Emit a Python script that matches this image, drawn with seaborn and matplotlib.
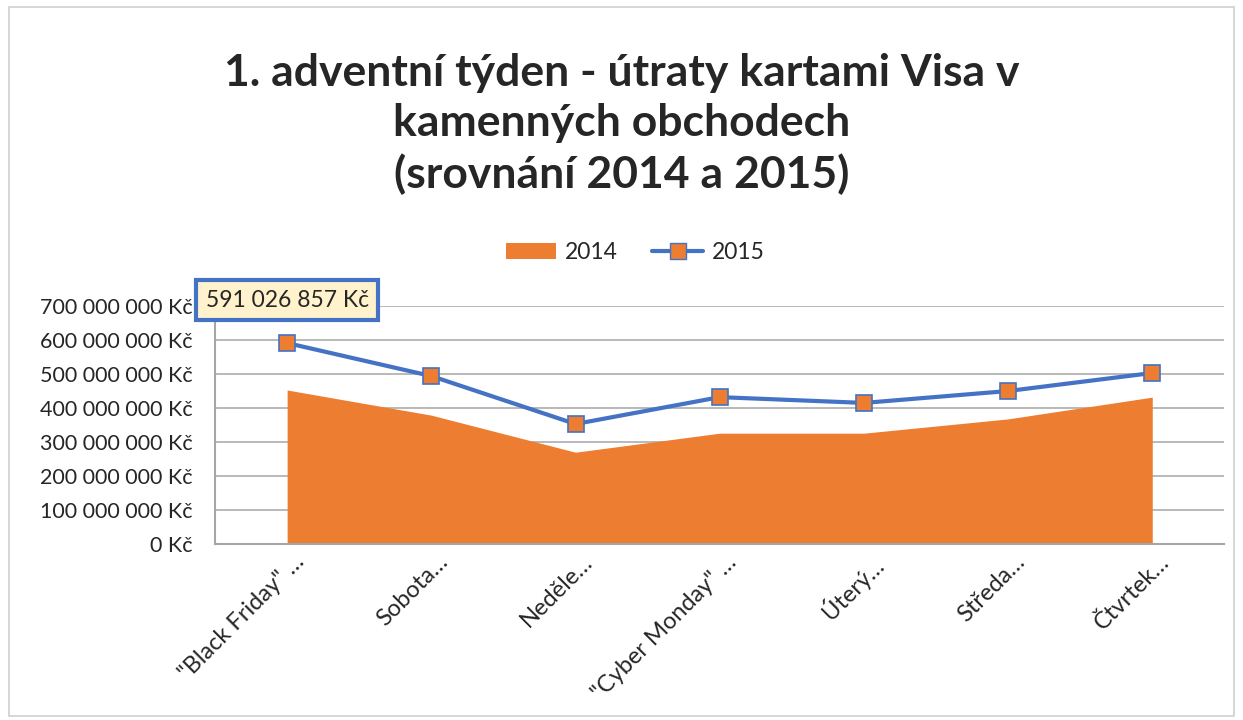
import numpy as np
import pandas as pd
import matplotlib.pyplot as plt
import matplotlib.transforms as mtransforms
import seaborn as sns
from matplotlib.ticker import FuncFormatter, FixedLocator
from matplotlib.patches import Rectangle, Patch
from matplotlib.lines import Line2D

sns.set_theme(style="white")
plt.rcParams['font.family'] = ['Lato', 'DejaVu Sans']

# Data
days = ['"Black Friday" …', 'Sobota…', 'Neděle…', '"Cyber Monday" …',
        'Úterý…', 'Středa…', 'Čtvrtek…']
values_2014 = [453e6, 379e6, 270e6, 326e6, 326e6, 368e6, 432e6]
values_2015 = [591026857, 494e6, 353e6, 432e6, 415e6, 450e6, 503e6]

orange = "#ED7D31"
blue = "#4472C4"

df = pd.DataFrame({"pos": range(len(days)), "day": days,
                   "y2014": values_2014, "y2015": values_2015})

fig = plt.figure(figsize=(12.43, 7.2), dpi=100)
ax = fig.add_axes([0.173, 0.2444, 0.812, 0.3306])

# 2014 area
ax.fill_between(df["pos"], 0, df["y2014"], color=orange, linewidth=0, zorder=2)

# 2015 line
sns.lineplot(data=df, x="pos", y="y2015", ax=ax, color=blue, linewidth=3,
             marker="s", markersize=11, markerfacecolor=orange,
             markeredgecolor=blue, markeredgewidth=1.2, zorder=3)

ax.set_xlim(-0.5, len(days) - 0.5)
ax.set_ylim(0, 700e6)
ax.set_xlabel("")
ax.set_ylabel("")

# y axis
ax.yaxis.set_major_locator(FixedLocator(np.arange(0, 700e6 + 1, 100e6)))
ax.yaxis.set_major_formatter(FuncFormatter(lambda v, p: f"{int(v):,} Kč".replace(",", " ")))
ax.grid(axis="y", color="#b3b3b3", linewidth=1.3, zorder=0)
ax.set_axisbelow(True)
ax.tick_params(axis="y", length=6, width=1.3, color="#b3b3b3", labelsize=15.5, pad=10)

# x axis
ax.set_xticks(df["pos"])
ax.set_xticklabels(days, rotation=45, ha="right", va="top", rotation_mode="anchor")
ax.set_xticks(np.arange(-0.5, len(days), 1.0), minor=True)
ax.tick_params(axis="x", which="major", length=0, labelsize=17, pad=8)
ax.tick_params(axis="x", which="minor", length=6, width=1.3, color="#a6a6a6")
shift = mtransforms.ScaledTranslation(6 / 100, 4 / 100, fig.dpi_scale_trans)
for lbl in ax.get_xticklabels():
    lbl.set_transform(lbl.get_transform() + shift)

for s in ["top", "right"]:
    ax.spines[s].set_visible(False)
for s in ["left", "bottom"]:
    ax.spines[s].set_color("#a6a6a6")
    ax.spines[s].set_linewidth(1.5)

# data label on first point of 2015
ax.annotate(f"{values_2015[0]:,} Kč".replace(",", " "),
            xy=(df["pos"][0], values_2015[0]), xytext=(0, 31),
            textcoords="offset points", ha="center", va="center",
            fontsize=16.5, zorder=5,
            bbox=dict(boxstyle="square,pad=0.4", fc="#FFF2CC", ec=blue, lw=3))

# title
fig.text(0.5, 0.828, "1. adventní týden - útraty kartami Visa v\nkamenných obchodech\n(srovnání 2014 a 2015)",
         ha="center", va="center", fontsize=32, fontweight="bold", linespacing=1.3)

# legend
handles = [Patch(facecolor=orange, edgecolor="none", label="2014"),
           Line2D([0], [0], color=blue, lw=3, marker="s", markersize=11,
                  markerfacecolor=orange, markeredgecolor=blue, label="2015")]
fig.legend(handles=handles, loc="center", bbox_to_anchor=(0.511, 0.649), ncol=2,
           frameon=False, fontsize=16.5, handlelength=2.2, columnspacing=1.5,
           handletextpad=0.4)

# chart border
fig.patches.append(Rectangle((0.007, 0.005), 0.986, 0.985, transform=fig.transFigure,
                             fill=False, ec="#d0d0d0", lw=1.2))

fig.savefig("out.png", dpi=100)
